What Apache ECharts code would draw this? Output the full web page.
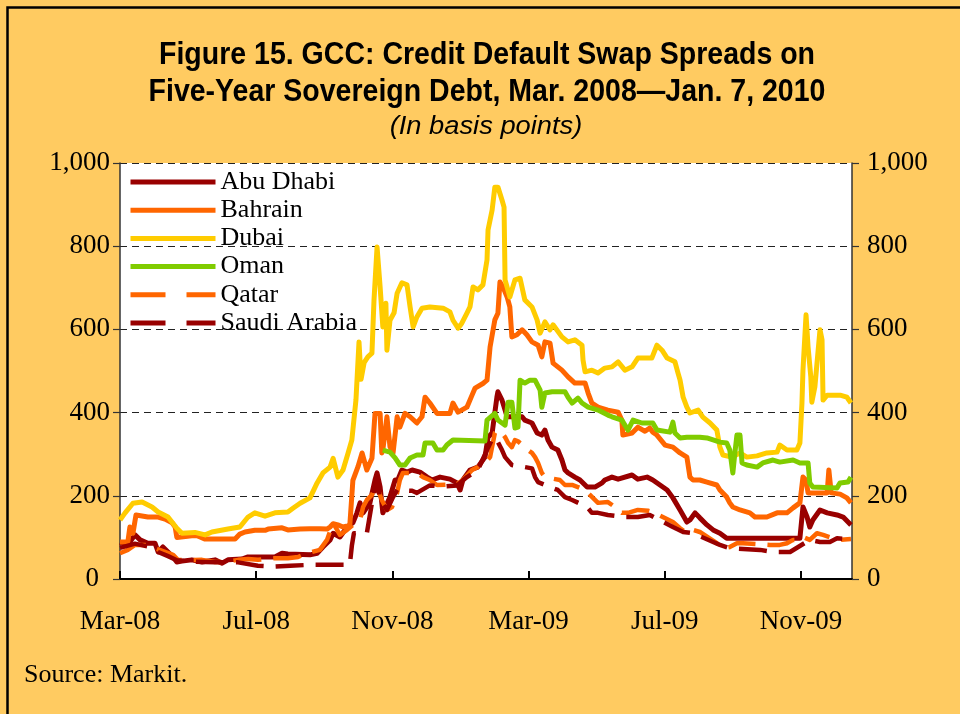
<!DOCTYPE html>
<html>
<head>
<meta charset="utf-8">
<script src="https://cdn.jsdelivr.net/npm/echarts@6/dist/echarts.min.js"></script>
<style>
html,body{margin:0;padding:0;background:#FFCB61;}
#chart{width:960px;height:714px;}
</style>
</head>
<body>
<div id="chart"></div>
<script>
// x values: months since start of Mar-2008 on the chart's time scale
const tickLabels = ['Mar-08','Jul-08','Nov-08','Mar-09','Jul-09','Nov-09'];
const yTicks = [0,200,400,600,800,1000];
const seriesNames = ['Abu Dhabi','Bahrain','Dubai','Oman','Qatar','Saudi Arabia'];

const abuDhabi = [[0,88],[0.23,82],[0.44,106],[0.59,94],[0.82,86],[1.03,86],[1.12,65],[1.26,77],[1.41,65],[1.56,53],[1.67,41],[1.82,43],[2.11,46],[2.41,41],[2.79,46],[3.0,38],[3.17,46],[3.58,48],[3.76,53],[4.55,53],[4.76,62],[4.93,60],[5.58,58],[5.79,62],[5.96,77],[6.17,94],[6.26,110],[6.46,101],[6.67,125],[6.84,135],[6.96,159],[7.05,183],[7.14,159],[7.34,183],[7.49,238],[7.55,255],[7.64,221],[7.72,159],[7.93,197],[8.08,238],[8.16,238],[8.28,262],[8.43,257],[8.58,262],[8.81,257],[9.02,245],[9.16,238],[9.40,245],[9.69,240],[9.90,231],[9.99,214],[10.07,238],[10.28,262],[10.51,269],[10.72,293],[10.81,341],[10.93,351],[11.07,437],[11.10,450],[11.22,430],[11.31,406],[11.37,390],[11.81,390],[11.89,382],[12.10,375],[12.25,351],[12.39,346],[12.48,358],[12.57,334],[12.69,317],[12.86,310],[12.98,286],[13.07,262],[13.16,255],[13.36,245],[13.51,238],[13.72,221],[13.95,221],[14.16,231],[14.24,238],[14.45,245],[14.63,240],[15.04,250],[15.21,240],[15.48,245],[15.65,238],[15.86,226],[16.07,214],[16.24,195],[16.45,166],[16.65,137],[16.74,142],[16.89,159],[17.03,147],[17.24,130],[17.42,118],[17.62,110],[17.82,98],[19.97,98],[20.06,173],[20.18,149],[20.26,125],[20.35,142],[20.56,166],[20.77,159],[21.06,154],[21.24,149],[21.47,130]];

const bahrain = [[0,89],[0.23,89],[0.29,125],[0.38,110],[0.47,154],[0.82,149],[1.12,149],[1.32,144],[1.53,135],[1.62,125],[1.67,100],[2.11,104],[2.26,104],[2.29,108],[2.35,101],[2.50,96],[3.38,96],[3.52,108],[3.67,113],[3.96,117],[4.26,117],[4.35,120],[4.76,123],[4.93,118],[5.29,120],[5.58,121],[5.87,121],[6.08,120],[6.17,125],[6.26,133],[6.40,130],[6.55,125],[6.75,129],[6.84,237],[6.99,270],[7.11,303],[7.25,262],[7.40,290],[7.49,398],[7.64,398],[7.69,303],[7.72,310],[7.84,390],[7.93,318],[8.02,303],[8.14,390],[8.22,365],[8.37,398],[8.52,390],[8.72,375],[8.87,390],[8.96,437],[9.10,423],[9.31,398],[9.69,398],[9.78,423],[9.93,401],[10.19,413],[10.34,442],[10.43,459],[10.66,470],[10.78,478],[10.87,558],[11.01,623],[11.10,639],[11.16,714],[11.25,702],[11.37,678],[11.45,654],[11.51,582],[11.66,587],[11.81,599],[11.95,587],[12.10,570],[12.28,562],[12.39,534],[12.48,570],[12.63,567],[12.72,519],[12.98,502],[13.16,486],[13.36,471],[13.66,471],[13.75,447],[13.86,423],[14.04,413],[14.33,406],[14.63,401],[14.74,382],[14.77,346],[15.04,351],[15.21,365],[15.42,355],[15.56,363],[15.65,353],[15.77,346],[16.01,322],[16.24,317],[16.45,303],[16.65,293],[16.74,245],[16.83,238],[17.03,238],[17.24,233],[17.53,226],[17.62,214],[17.82,197],[17.91,183],[18.00,173],[18.21,166],[18.50,159],[18.65,149],[19.00,149],[19.30,159],[19.59,159],[19.77,171],[19.97,183],[20.06,245],[20.15,238],[20.21,207],[20.77,207],[20.82,262],[20.89,207],[21.15,204],[21.35,195],[21.47,183]];

const dubai = [[0,142],[0.15,159],[0.38,182],[0.65,185],[0.94,173],[1.12,161],[1.41,149],[1.67,122],[1.82,110],[2.20,112],[2.50,106],[2.70,113],[3.17,120],[3.52,125],[3.76,149],[3.96,159],[4.26,151],[4.55,159],[4.93,161],[5.08,170],[5.29,182],[5.58,195],[5.79,231],[5.96,255],[6.17,269],[6.26,290],[6.40,245],[6.55,262],[6.70,303],[6.81,334],[6.93,430],[7.02,570],[7.08,480],[7.17,520],[7.28,534],[7.40,543],[7.46,670],[7.55,798],[7.64,702],[7.72,606],[7.81,663],[7.84,550],[7.93,622],[8.05,640],[8.14,687],[8.28,712],[8.43,707],[8.52,654],[8.61,606],[8.72,630],[8.87,651],[9.10,654],[9.49,651],[9.69,642],[9.78,622],[9.93,603],[10.04,615],[10.19,639],[10.28,654],[10.37,702],[10.51,695],[10.66,707],[10.78,767],[10.81,839],[10.93,887],[11.01,942],[11.10,942],[11.22,911],[11.28,894],[11.31,719],[11.45,678],[11.60,719],[11.75,723],[11.89,671],[12.10,654],[12.25,623],[12.34,591],[12.48,618],[12.63,599],[12.72,611],[12.98,582],[13.16,570],[13.36,575],[13.57,562],[13.60,526],[13.66,498],[13.86,502],[14.04,495],[14.24,507],[14.45,510],[14.63,522],[14.83,502],[15.04,510],[15.21,531],[15.62,531],[15.77,562],[15.92,550],[16.07,531],[16.30,522],[16.39,495],[16.45,478],[16.54,437],[16.65,413],[16.74,399],[16.98,406],[17.12,389],[17.33,375],[17.53,358],[17.62,317],[17.71,298],[17.97,293],[18.21,303],[18.41,293],[18.71,296],[19.00,303],[19.30,305],[19.38,322],[19.59,310],[19.88,310],[19.97,327],[20.03,423],[20.06,502],[20.15,635],[20.21,558],[20.29,486],[20.32,425],[20.41,462],[20.56,599],[20.62,575],[20.65,430],[20.77,442],[21.15,442],[21.35,437],[21.47,423]];

const oman = [[7.72,310],[7.93,305],[8.08,291],[8.22,274],[8.37,274],[8.52,291],[8.72,298],[8.90,298],[8.96,327],[9.19,327],[9.31,310],[9.49,310],[9.60,322],[9.78,334],[10.72,332],[10.78,382],[11.01,398],[11.10,382],[11.22,375],[11.31,370],[11.40,425],[11.51,425],[11.60,363],[11.69,365],[11.75,478],[11.89,471],[12.04,478],[12.19,478],[12.34,454],[12.39,413],[12.48,447],[12.69,450],[13.07,450],[13.16,437],[13.28,423],[13.45,435],[13.57,423],[13.75,413],[14.04,406],[14.33,394],[14.45,390],[14.74,382],[14.92,358],[15.07,382],[15.33,375],[15.65,375],[15.77,358],[16.15,353],[16.24,377],[16.30,351],[16.45,339],[16.65,341],[17.03,341],[17.24,339],[17.62,329],[17.82,327],[17.91,310],[18.00,255],[18.06,303],[18.12,346],[18.21,346],[18.27,279],[18.41,274],[18.71,269],[18.88,279],[19.18,286],[19.38,281],[19.77,286],[19.97,279],[20.21,279],[20.26,231],[20.35,221],[21.06,219],[21.15,231],[21.38,233],[21.47,245]];

const qatar = [[0,62],[0.23,70],[0.44,82],[0.82,82],[1.03,74],[1.32,65],[1.56,58],[1.70,46],[2.00,45],[2.41,46],[2.79,41],[3.08,41],[3.47,46],[3.76,48],[4.05,46],[4.55,50],[4.93,50],[5.23,53],[5.49,62],[5.87,70],[6.08,94],[6.26,135],[6.46,106],[6.67,118],[6.84,130],[7.05,142],[7.14,173],[7.25,190],[7.40,202],[7.49,221],[7.58,214],[7.69,190],[7.84,166],[7.99,173],[8.14,207],[8.22,238],[8.31,255],[8.72,255],[8.90,245],[9.10,238],[9.31,226],[9.90,228],[10.07,238],[10.34,262],[10.51,269],[10.72,279],[10.87,293],[11.01,351],[11.10,358],[11.22,351],[11.31,341],[11.40,327],[11.51,317],[11.60,334],[11.69,331],[11.98,310],[12.10,303],[12.19,293],[12.28,279],[12.39,255],[12.48,245],[12.92,238],[13.07,226],[13.28,226],[13.45,221],[13.66,214],[14.04,183],[14.33,185],[14.54,173],[14.74,159],[14.92,159],[15.21,166],[15.51,164],[15.65,161],[16.24,137],[16.45,122],[16.65,110],[16.83,118],[17.03,113],[17.53,86],[17.71,74],[17.91,77],[18.12,86],[18.30,86],[19.09,82],[19.38,82],[19.59,86],[19.77,94],[19.97,94],[20.06,101],[20.26,94],[20.47,110],[20.65,106],[20.94,98],[21.15,94],[21.47,96]];

const saudiArabia = [[0,75],[0.44,85],[0.82,78],[1.12,65],[1.41,55],[1.67,45],[2.11,42],[2.79,40],[3.47,40],[4.05,32],[4.55,30],[5.00,32],[5.58,34],[6.00,34],[6.75,34],[6.81,80],[6.87,110],[7.25,110],[7.40,183],[7.55,238],[7.64,190],[7.84,166],[8.02,197],[8.14,214],[8.58,212],[8.72,207],[9.10,225],[9.49,222],[9.90,225],[10.19,245],[10.51,262],[10.78,310],[10.96,341],[11.10,329],[11.22,310],[11.31,293],[11.51,274],[11.89,269],[12.10,266],[12.19,245],[12.28,233],[12.69,219],[12.86,214],[13.07,197],[13.28,190],[13.72,173],[13.86,159],[14.04,159],[14.33,154],[14.83,149],[15.21,149],[15.56,154],[16.24,125],[16.54,113],[16.83,110],[17.42,89],[17.62,82],[17.91,74],[18.80,70],[19.18,65],[19.68,65],[20.26,94],[20.56,89],[20.85,89],[21.06,98],[21.47,95]];

const seriesData = [abuDhabi, bahrain, dubai, oman, qatar, saudiArabia];
const colors = ['#990000','#FF6600','#FFCC00','#80CC00','#FF6600','#990000'];
const dashed = [false,false,false,false,true,true];

const serif = "'Liberation Serif','Times New Roman',serif";
const sans = "'Liberation Sans Narrow','Arial Narrow','Liberation Sans',sans-serif";
const chart = echarts.init(document.getElementById('chart'), null, {renderer:'canvas'});

const series = seriesNames.map((n,i)=>({
  name:n, type:'line', data:seriesData[i], symbol:'none', showSymbol:false,
  clip:true, animation:false,
  lineStyle:{color:colors[i], width: dashed[i]?4.5:5, type: dashed[i]?[28,12]:'solid', join:'round', cap:'butt'},
  itemStyle:{color:colors[i]}
}));

const fmt = v => v>=1000?(Math.floor(v/1000)+','+String(v%1000).padStart(3,'0')):String(v);

const yAxisBase = {
  type:'value', min:0, max:1000, interval:200,
  axisLine:{show:true, lineStyle:{color:'#333', width:1.5}},
  axisTick:{show:true, inside:false, length:7, lineStyle:{color:'#333', width:1.2}},
  splitLine:{show:false}
};

chart.setOption({
  backgroundColor:'#FFCB61',
  animation:false,
  grid:{left:120, right:108, top:163, bottom:135, show:true, backgroundColor:'#fff', borderWidth:0},
  xAxis:{type:'value', min:0, max:21.5, interval:4,
    axisLine:{show:true, onZero:false, lineStyle:{color:'#000', width:2}},
    axisTick:{show:true, inside:true, length:8, lineStyle:{color:'#000', width:2}},
    splitLine:{show:false},
    axisLabel:{color:'#000', fontFamily:serif, fontSize:27, margin:29, showMaxLabel:false,
      formatter:v=>(Math.abs(v/4-Math.round(v/4))<1e-6 && tickLabels[Math.round(v/4)])?tickLabels[Math.round(v/4)]:''}
  },
  yAxis:[
    Object.assign({}, yAxisBase, {position:'left',
      splitLine:{show:true, lineStyle:{color:'#222', width:1, type:[7,5]}},
      axisLabel:{color:'#000', fontFamily:serif, fontSize:27, margin:10,
        formatter:v=>v===0?'{z|0}':fmt(v),
        rich:{z:{fontFamily:serif, fontSize:27, color:'#000', padding:[0,11,0,0]}}}}),
    Object.assign({}, yAxisBase, {position:'right',
      axisLabel:{color:'#000', fontFamily:serif, fontSize:27, margin:15, formatter:fmt}})
  ],
  legend:{
    orient:'vertical', left:128, top:168, padding:0, itemWidth:85, itemHeight:10, itemGap:0.2,
    textStyle:{color:'#000', fontFamily:serif, fontSize:26, lineHeight:28},
    data:seriesNames.map((n,i)=>({name:n,
      itemStyle:{opacity:0, borderWidth:0},
      lineStyle: dashed[i]?{type:[35,21], width:5, color:colors[i]}:{type:'solid', width:5, color:colors[i]}})),
    selectedMode:false
  },
  series:series,
  graphic:[
    {type:'rect', left:5, top:5, shape:{width:975, height:730}, style:{fill:'none', stroke:'#000', lineWidth:2.5}, silent:true},
    {type:'text', x:487, y:55, scaleX:0.92, style:{text:'Figure 15. GCC: Credit Default Swap Spreads on', fontFamily:sans, fontWeight:'bold', fontSize:31, fill:'#000', textAlign:'center', textVerticalAlign:'middle'}},
    {type:'text', x:487, y:92, scaleX:0.92, style:{text:'Five-Year Sovereign Debt, Mar. 2008\u2014Jan. 7, 2010', fontFamily:sans, fontWeight:'bold', fontSize:31, fill:'#000', textAlign:'center', textVerticalAlign:'middle'}},
    {type:'text', x:486, y:127, scaleX:1.05, style:{text:'(In basis points)', fontFamily:sans, fontStyle:'italic', fontSize:26, fill:'#000', textAlign:'center', textVerticalAlign:'middle'}},
    {type:'text', x:24, y:675, style:{text:'Source: Markit.', fontFamily:serif, fontSize:26, fill:'#000', textAlign:'left', textVerticalAlign:'middle'}}
  ]
});
</script>
</body>
</html>
